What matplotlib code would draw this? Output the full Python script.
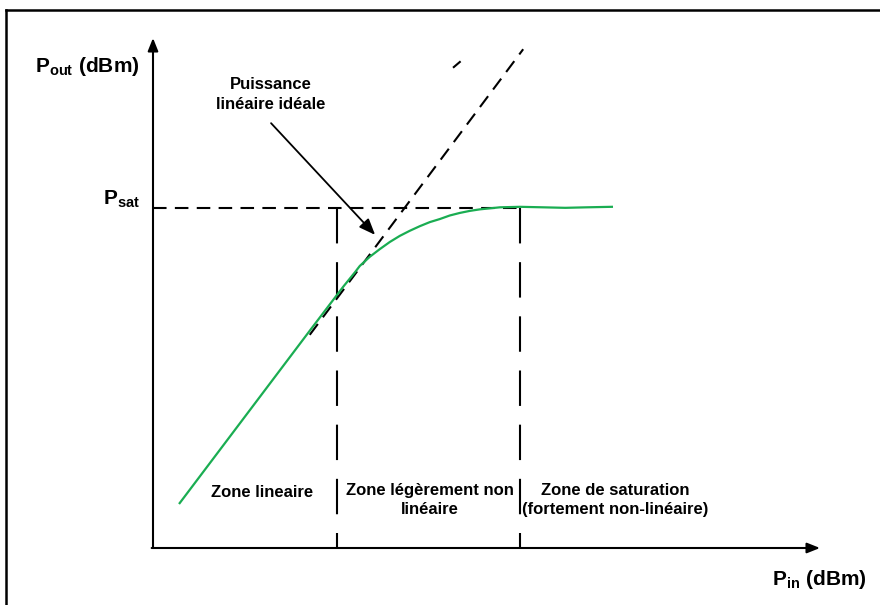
# -*- coding: utf-8 -*-

import numpy as np
import matplotlib
matplotlib.use('Agg')
import matplotlib.pyplot as plt
from matplotlib.lines import Line2D

plt.rcParams['font.family'] = ['Liberation Sans', 'DejaVu Sans']
plt.rcParams['mathtext.fontset'] = 'custom'
plt.rcParams['mathtext.rm'] = 'Liberation Sans'
plt.rcParams['mathtext.bf'] = 'Liberation Sans:bold'

# Courbe reelle Pout = f(Pin) (unites arbitraires)
pin = [0.40, 2.35, 2.85, 3.03, 3.10, 3.25, 3.40, 3.55, 3.70, 3.85, 4.00, 4.15,
       4.30, 4.45, 4.60, 4.75, 4.90, 5.05, 5.20, 5.50, 5.85, 6.18, 6.50, 6.88]
pout = [0.88, 4.26, 5.12, 5.41, 5.53, 5.71, 5.86, 6.00, 6.12, 6.22, 6.31, 6.39,
        6.45, 6.52, 6.57, 6.61, 6.64, 6.66, 6.68, 6.69, 6.68, 6.67, 6.68, 6.69]

# Puissance lineaire ideale (droite en pointilles)
pin_ideal = [2.35, 5.55]
pout_ideal = [4.18, 9.78]
# petit trait isole en haut
pin_stray = [4.51, 4.60]
pout_stray = [9.43, 9.53]

p_sat = 6.67
zones = [2.76, 5.50]  # limites des zones

green = '#1aad52'

fig = plt.figure(figsize=(8.8, 6.05), dpi=100)
ax = fig.add_axes([153/880, 1 - 548/605, (820 - 153)/880, (548 - 38)/605])
ax.set_xlim(0, 10)
ax.set_ylim(0, 10)
ax.axis('off')

# cadre (haut et gauche seulement)
fig.add_artist(Line2D([6/880, 1], [1 - 9.5/605, 1 - 9.5/605], color='black', lw=1.8))
fig.add_artist(Line2D([6/880, 6/880], [0, 1 - 9.5/605], color='black', lw=1.8))

# axes avec fleches
arrow = dict(arrowstyle='-|>,head_length=0.55,head_width=0.22', mutation_scale=14,
             color='black', lw=1.5, shrinkA=0, shrinkB=0)
ax.annotate('', xy=(10, 0), xytext=(-0.02, 0), arrowprops=arrow, annotation_clip=False)
ax.annotate('', xy=(0, 10), xytext=(0, 0), arrowprops=arrow, annotation_clip=False)

# lignes en pointilles
ax.plot([0, zones[1]], [p_sat, p_sat], color='black', lw=1.5, dashes=(6.5, 4), clip_on=False)
for z in zones:
    ax.plot([z, z], [p_sat, 0], color='black', lw=1.5, dashes=(17, 9), clip_on=False)
ax.plot(pin_ideal, pout_ideal, color='black', lw=1.5, dashes=(6.5, 4), clip_on=False)
ax.plot(pin_stray, pout_stray, color='black', lw=1.5, clip_on=False)

# courbe reelle
ax.plot(pin, pout, color=green, lw=1.6, clip_on=False, solid_joinstyle='round')

# fleche "Puissance lineaire ideale"
ax.annotate('', xy=(3.33, 6.14), xytext=(1.77, 8.33),
            arrowprops=dict(arrowstyle='-|>,head_length=0.7,head_width=0.28', mutation_scale=14,
                            color='black', lw=1.3, shrinkA=0, shrinkB=0))
ax.text(1.77, 8.89, 'Puissance\nlinéaire idéale', ha='center', va='center',
        fontsize=12, fontweight='bold', linespacing=1.4)

# labels des axes
ax.text(-1.77, 9.33, r'P$_{\mathbf{out}}$ (dBm)', ha='left', va='baseline',
        fontsize=15, fontweight='bold')
ax.text(-0.2, 6.73, r'P$_{\mathbf{sat}}$', ha='right', va='baseline',
        fontsize=15, fontweight='bold')
ax.text(10.7, -0.73, r'P$_{\mathbf{in}}$ (dBm)', ha='right', va='baseline',
        fontsize=15, fontweight='bold')

# zones
ax.text(1.63, 1.08, 'Zone lineaire', ha='center', va='center', fontsize=12, fontweight='bold')
ax.text(4.15, 0.94, 'Zone légèrement non\nlinéaire', ha='center', va='center',
        fontsize=12, fontweight='bold', linespacing=1.4)
ax.text(6.93, 0.94, 'Zone de saturation\n(fortement non-linéaire)', ha='center', va='center',
        fontsize=12, fontweight='bold', linespacing=1.4)

fig.savefig('out.png', dpi=100)
